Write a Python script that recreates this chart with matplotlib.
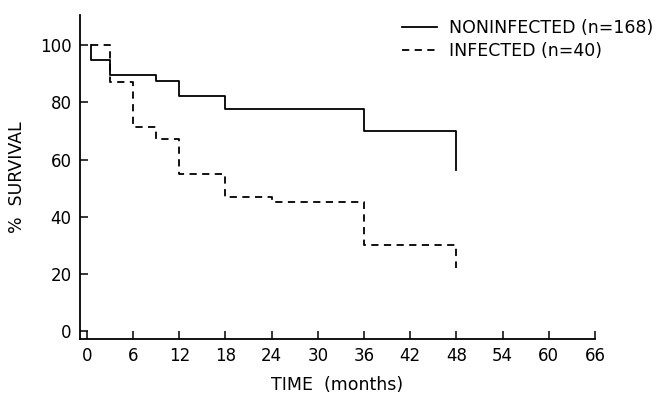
import matplotlib.pyplot as plt

# Kaplan-Meier step data (months, % survival)
noninf_t = [0, 0.5, 3, 9, 12, 18, 36, 48]
noninf_s = [100, 94.7, 89.7, 87.5, 82.1, 77.5, 70.0, 56.5]

inf_t = [0, 0.5, 3, 6, 9, 12, 18, 24, 36, 48]
inf_s = [100, 100, 87.1, 71.4, 67.1, 54.8, 47.0, 45.0, 30.1, 22.0]

x_ticks = [0, 6, 12, 18, 24, 30, 36, 42, 48, 54, 60, 66]
y_ticks = [0, 20, 40, 60, 80, 100]


def step_xy(t, s):
  # curves start at the first change time (0.5 months)
  xs = [t[1]]
  ys = [s[0]]
  for i in range(1, len(t)):
    xs += [t[i], t[i]]
    ys += [s[i - 1], s[i]]
  return xs, ys


def main():
  plt.rcParams['font.family'] = 'DejaVu Sans'
  fig = plt.figure(figsize=(6.66, 3.93), dpi=100)
  ax = fig.add_axes([80 / 666, (393 - 339) / 393, (595 - 80) / 666, (339 - 15) / 393])

  x1, y1 = step_xy(noninf_t, noninf_s)
  x2, y2 = step_xy(inf_t, inf_s)
  ax.plot(x1, y1, color='black', lw=1.3, label='NONINFECTED (n=168)')
  ax.plot(x2, y2, color='black', lw=1.3, linestyle=(0, (4, 3)), label='INFECTED (n=40)')

  ax.set_xlim(-0.9, 66)
  ax.set_ylim(-2.7, 110.5)
  ax.set_xticks(x_ticks)
  ax.set_yticks(y_ticks)
  ax.tick_params(direction='in', length=6, width=1.1, labelsize=12, colors='black')
  ax.tick_params(axis='x', pad=6)
  ax.tick_params(axis='y', pad=6)
  for side in ['top', 'right']:
    ax.spines[side].set_visible(False)
  for side in ['left', 'bottom']:
    ax.spines[side].set_linewidth(1.3)

  ax.set_xlabel('TIME  (months)', fontsize=12.5, labelpad=8)
  ax.set_ylabel('%  SURVIVAL', fontsize=12.5, labelpad=10)

  fig.legend(loc='upper right', bbox_to_anchor=(662 / 666, 1 - 10 / 393),
             frameon=False, fontsize=12.5, handlelength=2.0, handletextpad=0.7,
             labelspacing=0.3, borderpad=0)

  fig.savefig('out.png', dpi=100)


if __name__ == "__main__":
  main()
